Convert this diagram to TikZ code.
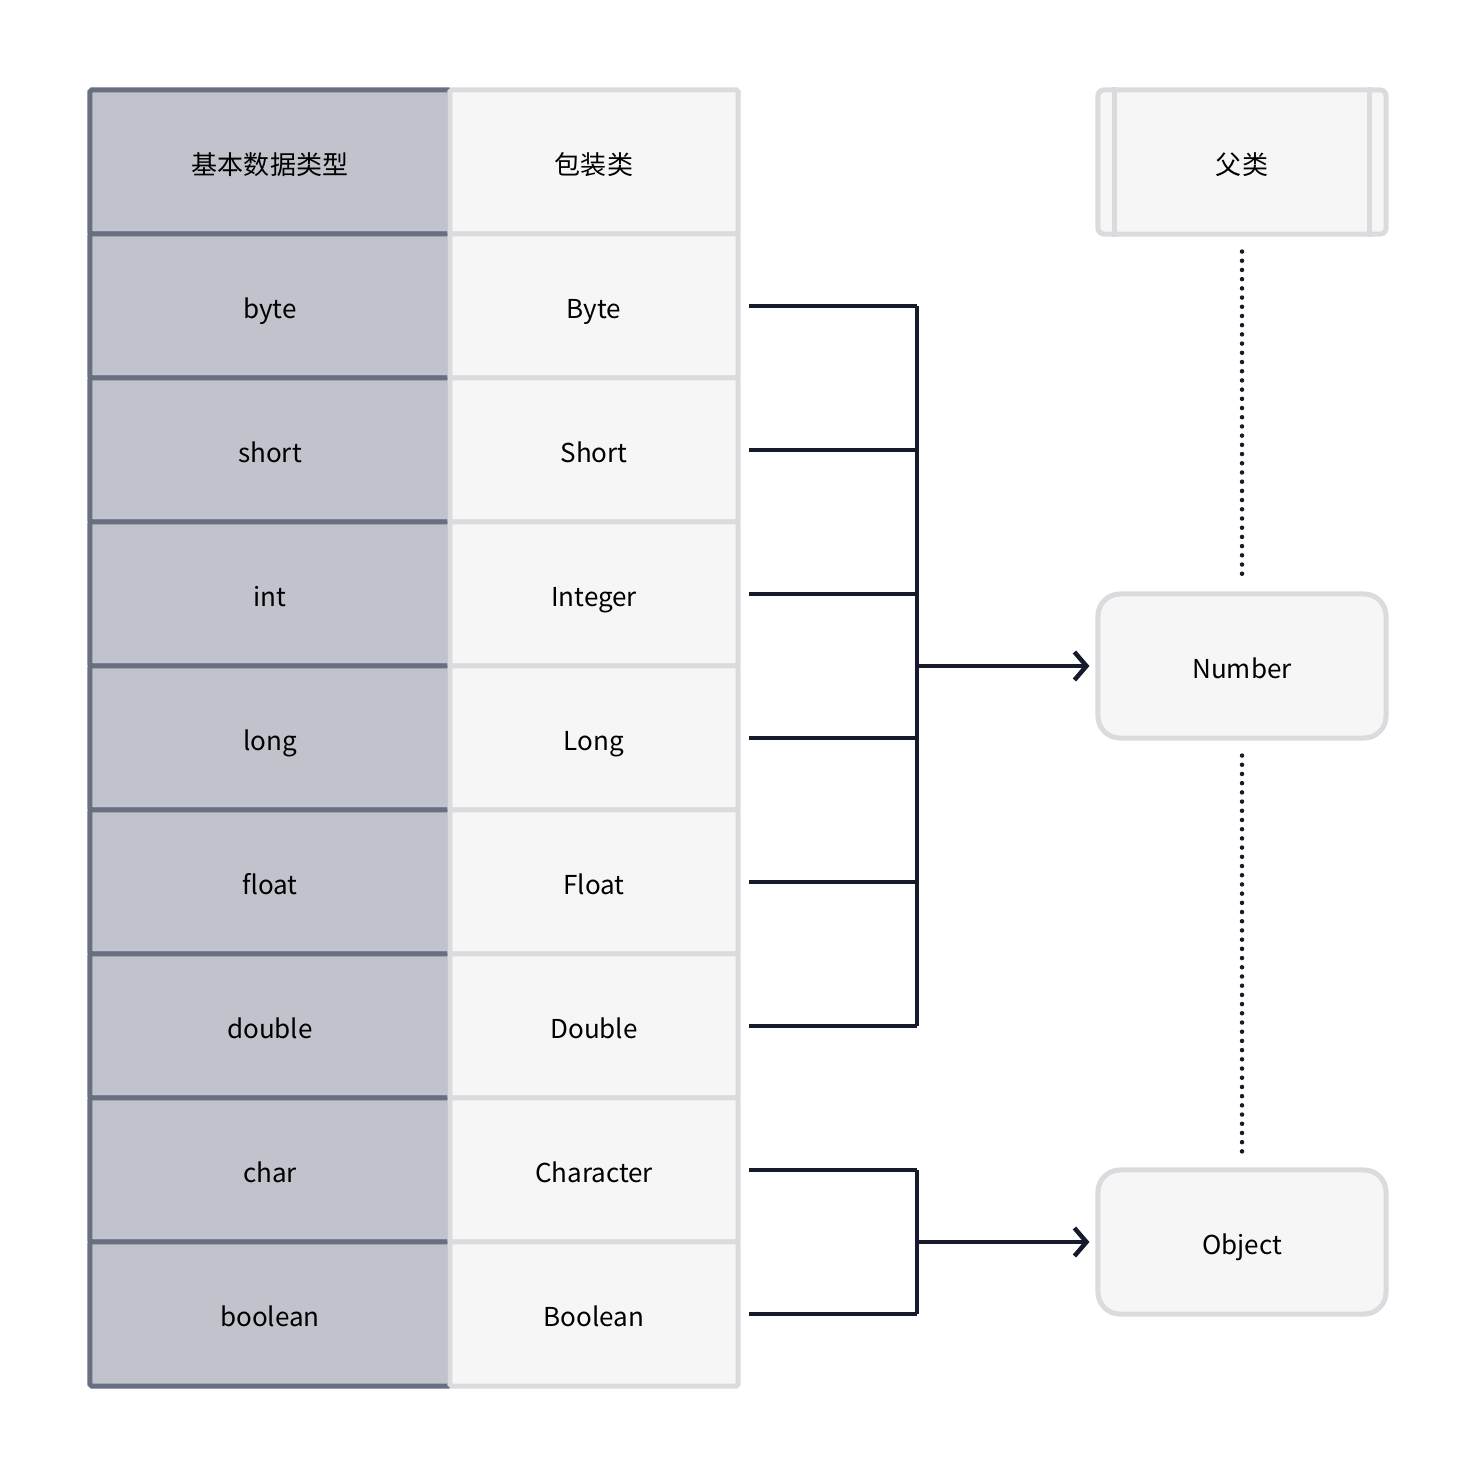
\documentclass[tikz,border=0pt]{standalone}
\usepackage{fontspec}
\setmainfont{Noto Sans CJK SC}
\usetikzlibrary{arrows.meta}
\definecolor{primfill}{HTML}{C0C3CB}
\definecolor{primline}{HTML}{686F81}
\definecolor{boxfill}{HTML}{F6F6F6}
\definecolor{boxline}{HTML}{DADADF}
\definecolor{linkcol}{HTML}{151B2A}

\begin{document}
\begin{tikzpicture}[
		x = 0.01cm, y = -0.01cm,
		font = \fontsize{7.4}{9}\selectfont,
		every node/.style={text height=0.73em, text depth=0pt},
		prim/.style={rectangle, draw=primline, fill=primfill, line width=0.05cm, rounded corners=0.5pt, minimum width=3.6cm, minimum height=1.44cm, inner sep=0pt},
		wrap/.style={rectangle, draw=boxline, fill=boxfill, line width=0.05cm, rounded corners=0.5pt, minimum width=2.88cm, minimum height=1.44cm, inner sep=0pt},
		super/.style={rectangle, draw=boxline, fill=boxfill, line width=0.05cm, rounded corners=0.22cm, minimum width=2.88cm, minimum height=1.44cm},
		link/.style={linkcol, line width=0.035cm, line join=miter},
		arrow/.style={link, -{Straight Barb[length=0.12cm, width=0.28cm, line width=0.045cm]}, shorten >=0.06cm},
		dots/.style={linkcol, line width=0.045cm, line cap=round, dash pattern=on 0pt off 0.092cm},
		]
	\useasboundingbox (0,0) rectangle (1476,1476);

	% left column: primitive types
	\node (p0) [prim] at (270,162) {基本数据类型};
	\foreach \p [count=\i] in {byte, short, int, long, float, double, char, boolean}
		\node (p\i) [prim] at (270,{162+144*\i}) {\p};

	% right column: wrapper classes
	\node (w0) [wrap] at (594,162) {包装类};
	\foreach \w [count=\i] in {Byte, Short, Integer, Long, Float, Double, Character, Boolean}
		\node (w\i) [wrap] at (594,{162+144*\i}) {\w};

	% parent classes
	\node (head) [super, rounded corners=0.06cm] at (1242,162) {父类};
	\draw[boxline, line width=0.05cm] ([xshift=0.19cm]head.north west) -- ([xshift=0.19cm]head.south west)
		([xshift=-0.19cm]head.north east) -- ([xshift=-0.19cm]head.south east);
	\node (num) [super] at (1242,666) {Number};
	\node (obj) [super] at (1242,1242) {Object};

	\coordinate (busA) at (917,666);
	\coordinate (busB) at (917,1242);

	\foreach \i in {1,...,6}
		\draw[link] ([xshift=0.08cm]w\i.east) -- (w\i.east -| busA);
	\draw[link] (w1.east -| busA) -- (w6.east -| busA);
	\draw[arrow] (busA) -- (num.west);

	\foreach \i in {7,8}
		\draw[link] ([xshift=0.08cm]w\i.east) -- (w\i.east -| busB);
	\draw[link] (w7.east -| busB) -- (w8.east -| busB);
	\draw[arrow] (busB) -- (obj.west);

	\draw[dots] ([yshift=-0.15cm]head.south) -- ([yshift=0.14cm]num.north);
	\draw[dots] ([yshift=-0.15cm]num.south) -- ([yshift=0.14cm]obj.north);
\end{tikzpicture}
\end{document}
